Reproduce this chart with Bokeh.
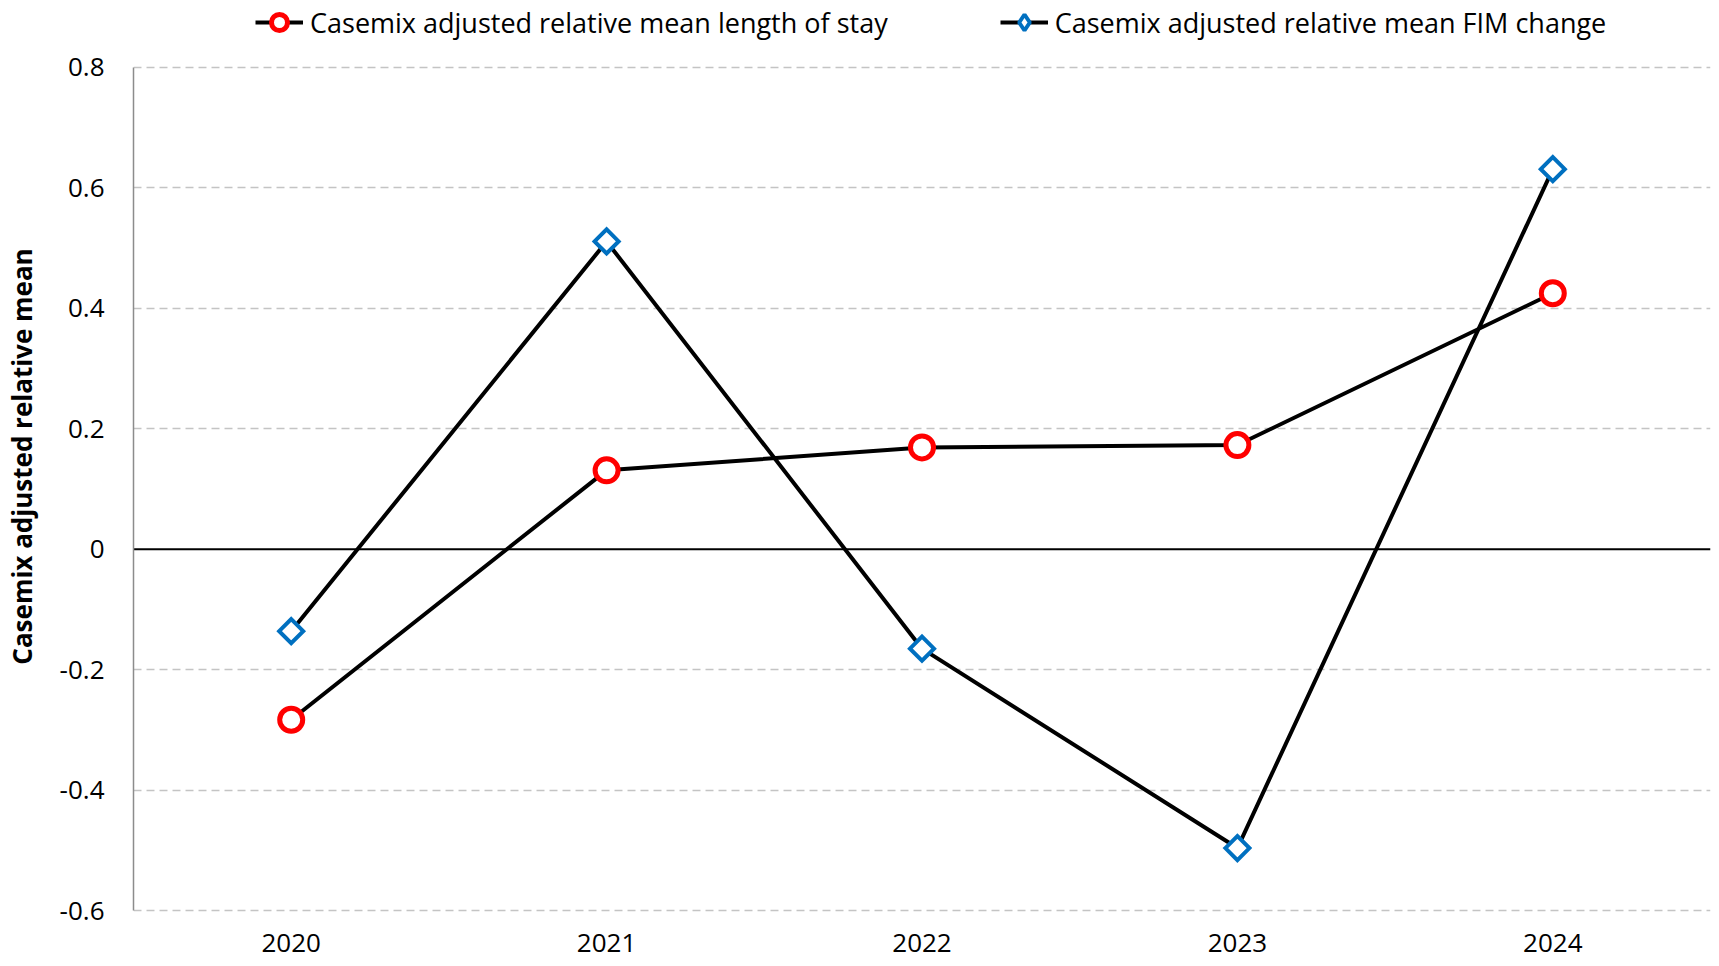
import math
from bokeh.plotting import figure
from bokeh.models import (FactorRange, Range1d, FixedTicker, Span, Legend,
                          LegendItem, ColumnDataSource)
from bokeh.embed import file_html
from bokeh.resources import INLINE

# ---- data ----
years = ["2020", "2021", "2022", "2023", "2024"]
los = [-0.283, 0.131, 0.169, 0.173, 0.425]
fim = [-0.136, 0.511, -0.165, -0.496, 0.631]
y_ticks = [-0.6, -0.4, -0.2, 0, 0.2, 0.4, 0.6, 0.8]
y_tick_labels = ["-0.6", "-0.4", "-0.2", "0", "0.2", "0.4", "0.6", "0.8"]
series_names = ["Casemix adjusted relative mean length of stay",
                "Casemix adjusted relative mean FIM change"]
y_title = "Casemix adjusted relative mean"

FONT = "Open Sans"
TICK_FS = "26px"
LEG_FS = "27px"

# the frame reaches the top of the canvas so the legend can sit above 0.8
p = figure(width=1711, height=962,
           x_range=FactorRange(*years, range_padding=0),
           y_range=Range1d(-0.603, 0.911),
           output_backend="svg", toolbar_location=None,
           min_border_left=132, min_border_right=1,
           min_border_top=0, min_border_bottom=50)
p.outline_line_color = None
p.background_fill_color = "white"

# grid
p.xgrid.visible = False
p.ygrid.ticker = FixedTicker(ticks=[t for t in y_ticks if t != 0])
p.ygrid.grid_line_color = "#C4C4C4"
p.ygrid.grid_line_width = 1.4
p.ygrid.grid_line_dash = "8 5"

# y axis
p.yaxis.ticker = FixedTicker(ticks=y_ticks)
p.yaxis.bounds = (y_ticks[0], y_ticks[-1])
p.yaxis.major_label_overrides = {t: l for t, l in zip(y_ticks, y_tick_labels)}
p.yaxis.axis_line_color = "#8C8C8C"
p.yaxis.axis_line_width = 1.5
p.yaxis.major_tick_line_color = None
p.yaxis.minor_tick_line_color = None
p.yaxis.major_label_standoff = 23
p.yaxis.major_label_text_font = FONT
p.yaxis.major_label_text_font_size = TICK_FS
p.yaxis.major_label_text_color = "black"
p.yaxis.axis_label = y_title
p.yaxis.axis_label_text_font = FONT
p.yaxis.axis_label_text_font_size = "26px"
p.yaxis.axis_label_text_font_style = "bold"
p.yaxis.axis_label_text_color = "black"
p.yaxis.axis_label_standoff = 17

# x axis
p.xaxis.axis_line_color = None
p.xaxis.major_tick_line_color = None
p.xaxis.minor_tick_line_color = None
p.xaxis.major_label_standoff = 15
p.xaxis.major_label_text_font = FONT
p.xaxis.major_label_text_font_size = TICK_FS
p.xaxis.major_label_text_color = "black"

# zero line
p.add_layout(Span(location=0, dimension="width", line_color="black",
                  line_width=2, level="underlay"))

src = ColumnDataSource(dict(year=years, los=los, fim=fim))
r1l = p.line("year", "los", source=src, line_color="black", line_width=4)
r2l = p.line("year", "fim", source=src, line_color="black", line_width=4)
r1m = p.scatter("year", "los", source=src, marker="circle", size=23,
                line_color="#FF0000", line_width=5, fill_color="white")
r2m = p.scatter("year", "fim", source=src, marker="square", angle=math.pi / 4,
                size=17, line_color="#0070C0", line_width=4, fill_color="white",
                line_join="miter")
# legend-only key (rhombus), not drawn on the plot itself
r2k = p.scatter("year", "fim", source=src, marker="diamond", size=23,
                line_color="#0070C0", line_width=4, fill_color="white",
                visible=False)

legend = Legend(items=[LegendItem(label=series_names[0], renderers=[r1l, r1m]),
                       LegendItem(label=series_names[1], renderers=[r2l, r2k])],
                location=(122, 870), orientation="horizontal",
                glyph_width=48, glyph_height=40, label_standoff=7, spacing=112,
                padding=0, margin=0, border_line_color=None,
                background_fill_alpha=0, inactive_fill_alpha=0,
                label_text_font=FONT, label_text_font_size=LEG_FS,
                label_text_color="black")
p.add_layout(legend)

open("out.html", "w").write(file_html(p, INLINE))
